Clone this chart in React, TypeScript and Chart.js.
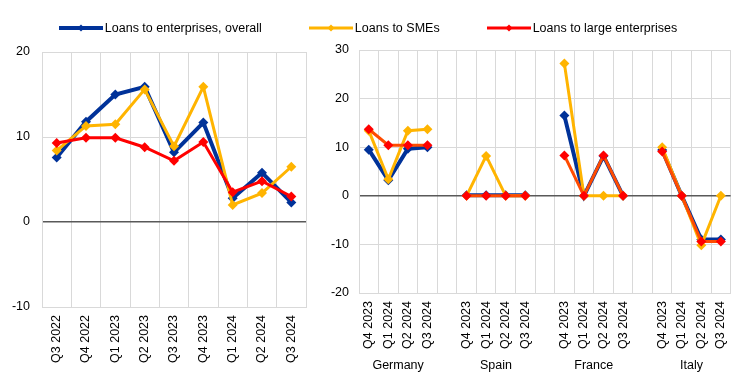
import React, { useEffect, useRef } from 'react';
import { Chart, registerables } from 'chart.js';

Chart.register(...registerables);

const leftCategories = ['Q3 2022', 'Q4 2022', 'Q1 2023', 'Q2 2023', 'Q3 2023', 'Q4 2023', 'Q1 2024', 'Q2 2024', 'Q3 2024'];
const leftOverall = [7.6, 11.8, 15.0, 15.9, 8.2, 11.7, 2.8, 5.8, 2.3];
const leftSMEs = [8.4, 11.3, 11.5, 15.6, 8.9, 15.9, 2.0, 3.4, 6.5];
const leftLarge = [9.3, 9.9, 9.9, 8.8, 7.2, 9.4, 3.5, 4.8, 3.0];

const countries = ['Germany', 'Spain', 'France', 'Italy'];
const quarters = ['Q4 2023', 'Q1 2024', 'Q2 2024', 'Q3 2024'];
const rightCategories = [...quarters, '', ...quarters, '', ...quarters, '', ...quarters];
const rightOverall = [9.5, 3.2, 9.7, 10.0, null, 0.1, 0.1, 0.1, 0.1, null, 16.5, 0, 8.2, 0, null, 9.4, 0, -9.0, -9.0];
const rightSMEs = [13.4, 3.4, 13.4, 13.7, null, 0, 8.2, 0, 0, null, 27.2, 0, 0, 0, null, 10.0, 0, -10.2, 0];
const rightLarge = [13.7, 10.4, 10.4, 10.4, null, 0, 0, 0, 0, null, 8.3, 0, 8.3, 0, null, 9.1, 0, -9.4, -9.4];

const seriesNames = ['Loans to enterprises, overall', 'Loans to SMEs', 'Loans to large enterprises'];

const BLUE = '#003299';
const YELLOW = '#ffb400';
const RED = '#ff0000';
const ORANGE = '#ff4b00';
const GRID = '#d9d9d9';
const ZERO = '#595959';
const FONT = { family: "'Liberation Sans', Arial, sans-serif", size: 12.5 };

const groupCenters = countries.map((_, g) => g * (quarters.length + 1) + (quarters.length - 1) / 2);

function yGrid() {
  return {
    color: (ctx: any) => (ctx.tick && ctx.tick.value === 0 ? ZERO : GRID),
    lineWidth: (ctx: any) => (ctx.tick && ctx.tick.value === 0 ? 1.5 : 1),
    drawTicks: false,
  };
}

function makeDatasets(overall: any[], smes: any[], large: any[], largeLine: string) {
  // order: red drawn on top, then yellow, then blue
  return [
    {
      label: seriesNames[2], data: large, borderColor: largeLine, backgroundColor: RED,
      pointBackgroundColor: RED, pointBorderColor: RED, borderWidth: 3,
      pointStyle: 'rectRot', pointRadius: 5, pointBorderWidth: 0, spanGaps: false,
    },
    {
      label: seriesNames[1], data: smes, borderColor: YELLOW, backgroundColor: YELLOW,
      pointBackgroundColor: YELLOW, pointBorderColor: YELLOW, borderWidth: 3,
      pointStyle: 'rectRot', pointRadius: 5, pointBorderWidth: 0, spanGaps: false,
    },
    {
      label: seriesNames[0], data: overall, borderColor: BLUE, backgroundColor: BLUE,
      pointBackgroundColor: BLUE, pointBorderColor: BLUE, borderWidth: 4,
      pointStyle: 'rectRot', pointRadius: 5, pointBorderWidth: 0, spanGaps: false,
    },
  ];
}

function LeftChart() {
  const ref = useRef<HTMLCanvasElement>(null);
  useEffect(() => {
    const chart = new Chart(ref.current as HTMLCanvasElement, {
      type: 'line',
      data: { labels: leftCategories, datasets: makeDatasets(leftOverall, leftSMEs, leftLarge, RED) as any },
      options: {
        responsive: false,
        animation: false,
        layout: { padding: { top: 52, right: 24, left: 0, bottom: 0 } },
        plugins: { legend: { display: false }, tooltip: { enabled: false } },
        elements: { line: { tension: 0 } },
        scales: {
          x: {
            type: 'category',
            offset: true,
            grid: { color: GRID, offset: true, drawTicks: false },
            border: { color: GRID },
            ticks: { font: FONT, color: '#000', minRotation: 90, maxRotation: 90, autoSkip: false, padding: 8 },
            afterFit: (s: any) => { s.height = 77; },
          },
          y: {
            min: -10, max: 20,
            grid: yGrid() as any,
            border: { color: GRID },
            ticks: { stepSize: 10, font: FONT, color: '#000', padding: 12 },
            afterFit: (s: any) => { s.width = 42; },
          },
        },
      } as any,
    });
    return () => chart.destroy();
  }, []);
  return <canvas ref={ref} width={330} height={384} style={{ position: 'absolute', left: 0, top: 0, width: 330, height: 384 }} />;
}

function RightChart() {
  const ref = useRef<HTMLCanvasElement>(null);
  useEffect(() => {
    const chart = new Chart(ref.current as HTMLCanvasElement, {
      type: 'line',
      data: { labels: rightCategories, datasets: makeDatasets(rightOverall, rightSMEs, rightLarge, ORANGE) as any },
      options: {
        responsive: false,
        animation: false,
        layout: { padding: { top: 50, right: 4, left: 0, bottom: 0 } },
        plugins: { legend: { display: false }, tooltip: { enabled: false } },
        elements: { line: { tension: 0 } },
        scales: {
          x: {
            type: 'category',
            offset: true,
            grid: { color: GRID, offset: true, drawTicks: false },
            border: { color: GRID },
            ticks: { font: FONT, color: '#000', minRotation: 90, maxRotation: 90, autoSkip: false, padding: 8 },
            afterFit: (s: any) => { s.height = 60; },
          },
          x2: {
            type: 'linear',
            position: 'bottom',
            min: -0.5, max: rightCategories.length - 0.5,
            offset: false,
            grid: { display: false, drawTicks: false },
            border: { display: false },
            afterBuildTicks: (s: any) => { s.ticks = groupCenters.map((v) => ({ value: v })); },
            ticks: {
              font: FONT, color: '#000', autoSkip: false, maxRotation: 0, minRotation: 0, padding: 5,
              callback: (_v: any, i: number) => countries[i],
            },
            afterFit: (s: any) => { s.height = 31; },
          },
          y: {
            min: -20, max: 30,
            grid: yGrid() as any,
            border: { color: GRID },
            ticks: { stepSize: 10, font: FONT, color: '#000', padding: 10 },
            afterFit: (s: any) => { s.width = 29; },
          },
        },
      } as any,
    });
    return () => chart.destroy();
  }, []);
  return <canvas ref={ref} width={414} height={384} style={{ position: 'absolute', left: 330, top: 0, width: 414, height: 384 }} />;
}

function LegendItem({ name, color, width }: { name: string; color: string; width: number }) {
  return (
    <div style={{ display: 'flex', alignItems: 'center' }}>
      <svg width={44} height={12} style={{ display: 'block', marginRight: 2 }}>
        <line x1={0} y1={6} x2={44} y2={6} stroke={color} strokeWidth={width} strokeLinecap="round" />
        <polygon points="22,2.5 25.5,6 22,9.5 18.5,6" fill={name === seriesNames[2] ? RED : color} />
      </svg>
      <span style={{ fontFamily: FONT.family, fontSize: 12.5, color: '#000', whiteSpace: 'nowrap' }}>{name}</span>
    </div>
  );
}

export default function App() {
  useEffect(() => {
    document.body.style.margin = '0';
  }, []);
  const colors = [BLUE, YELLOW, RED];
  const widths = [4, 3, 3];
  return (
    <div style={{ position: 'absolute', left: 0, top: 0, width: 744, height: 384, background: '#fff', overflow: 'hidden' }}>
      <LeftChart />
      <RightChart />
      <div style={{ position: 'absolute', left: 0, top: 21, width: 744, display: 'flex', justifyContent: 'center', gap: 47, paddingRight: 8, boxSizing: 'border-box' }}>
        {seriesNames.map((n, i) => (
          <LegendItem key={n} name={n} color={colors[i]} width={widths[i]} />
        ))}
      </div>
    </div>
  );
}
